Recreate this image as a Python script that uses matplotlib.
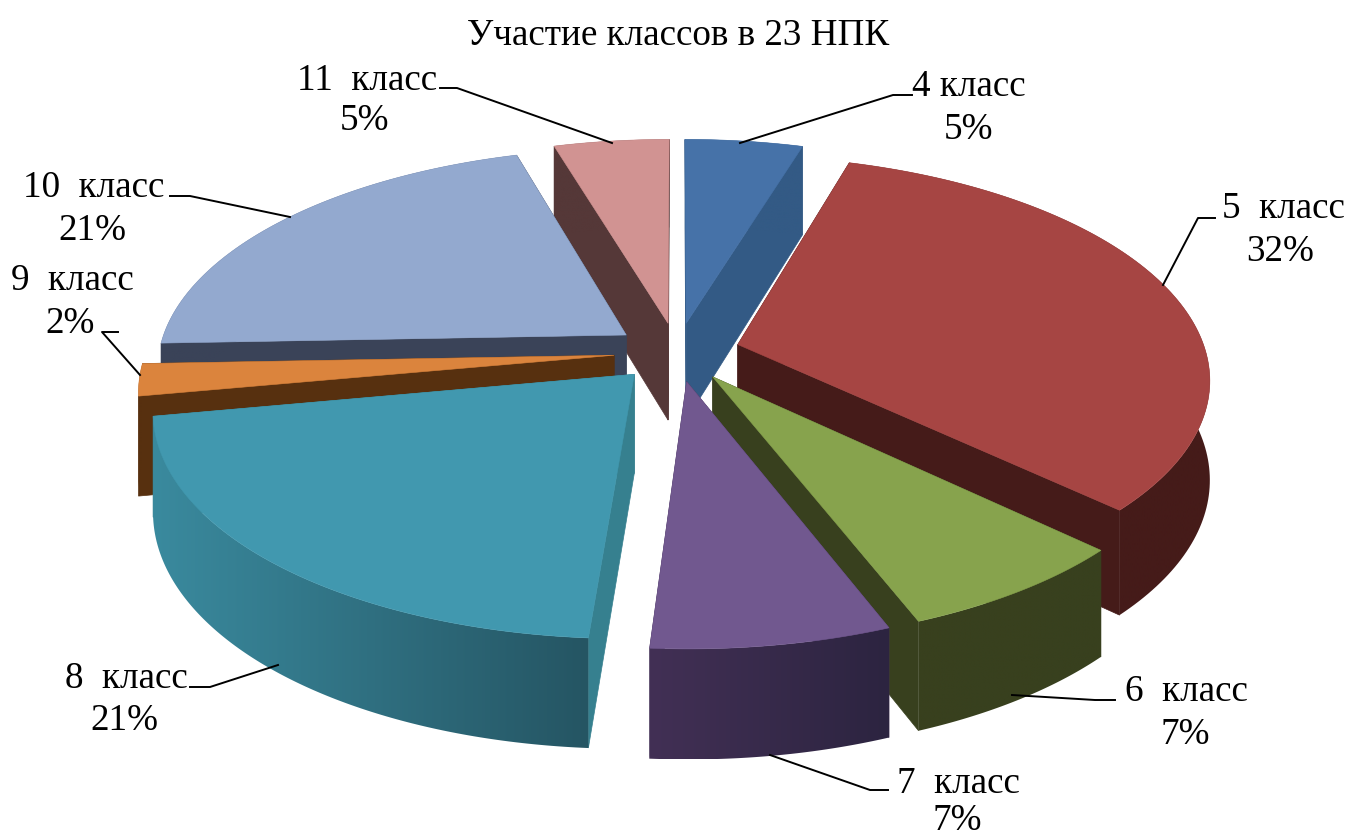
# Участие классов - 3D exploded pie drawn by hand on a pixel-sized axes
import numpy as np
import matplotlib
matplotlib.use('Agg')
import matplotlib.pyplot as plt
from matplotlib.colors import to_rgb
from matplotlib.patches import Polygon

title = 'Участие классов в 23 НПК'
categories = ['4 класс', '5  класс', '6  класс', '7  класс', '8  класс', '9  класс', '10  класс', '11  класс']
shares = [4.7, 32.4, 7.0, 7.0, 21.0, 2.3, 21.0, 4.6]

top_colors = ['#4672A8', '#A64543', '#87A34D', '#71588F', '#4198AF', '#DB843D', '#93A9CF', '#D19392']
cut_colors = ['#335A85', '#451B19', '#38401E', '#423055', '#36808F', '#57300F', '#3A4358', '#553838']
rim_left = ['#335A85', '#451B19', '#38401E', '#423055', '#3A8A9E', '#57300F', '#3A4358', '#553838']
rim_right = ['#335A85', '#451B19', '#38401E', '#2C2440', '#255563', '#57300F', '#3A4358', '#553838']

# Text centres and leader lines in figure pixels
label_xy = [(969, 87), (1283, 209), (1186, 692), (958, 784), (126, 679), (72, 281), (94, 188), (367, 81)]
pct_xy = [(968, 130), (1280, 252), (1185, 735), (957, 821), (124, 721), (70, 324), (92, 231), (365, 121)]
leaders = [
    [(912, 95), (893, 95), (740, 143)],
    [(1215, 218), (1198, 218), (1163, 285)],
    [(1115, 700), (1095, 700), (1012, 695)],
    [(888, 790), (870, 790), (770, 755)],
    [(190, 687), (210, 687), (278, 665)],
    [(118, 332), (102, 332), (140, 375)],
    [(170, 196), (190, 196), (290, 217)],
    [(440, 88), (457, 88), (612, 143)],
]

# Projection of the disc onto the page
CX, CY = 677, 352
RX, RY = 468, 218.6
PERSP = 0.146
EXPLODE = 0.135
DEPTH = 98


def project(x, y, drop=0.0):
    x, y = np.asarray(x, float), np.asarray(y, float)
    w = 1 + PERSP * y
    h = drop / (1 + 0.1 * y)
    return CX + RX * x / w, CY - RY * y / w + h


fig = plt.figure(figsize=(13.5, 8.36), dpi=100)
ax = fig.add_axes([0, 0, 1, 1])

edges = np.cumsum([0] + shares) / sum(shares) * 2 * np.pi
slices = []
for i in range(len(shares)):
    mid = (edges[i] + edges[i + 1]) / 2
    theta = np.linspace(edges[i], edges[i + 1], 120)
    ox, oy = EXPLODE * np.sin(mid), EXPLODE * np.cos(mid)
    slices.append((oy, i, theta, ox, oy))

# Painter's order: back slices first
z = 1
for _, i, theta, ox, oy in sorted(slices, key=lambda s: -s[0]):
    x = ox + np.sin(theta)
    y = oy + np.cos(theta)

    # Radial cut faces
    for k in (0, -1):
        ex = [ox, x[k], x[k], ox]
        ey = [oy, y[k], y[k], oy]
        px, py = project(ex[:2], ey[:2])
        qx, qy = project(ex[2:], ey[2:], DEPTH)
        ax.add_patch(Polygon(np.c_[np.r_[px, qx], np.r_[py, qy]], fc=cut_colors[i], ec=cut_colors[i], lw=0.5, zorder=z))
        z += 1

    # Outer rim, shaded from left to right with a clipped gradient
    tx, ty = project(x, y)
    bx, by = project(x, y, DEPTH)
    outline = np.c_[np.r_[tx, bx[::-1]], np.r_[ty, by[::-1]]]
    c0, c1 = np.array(to_rgb(rim_left[i])), np.array(to_rgb(rim_right[i]))
    ramp = c0 + (c1 - c0) * np.linspace(0, 1, 256)[:, None]
    im = ax.imshow(ramp[None, :, :], extent=(outline[:, 0].min(), outline[:, 0].max(), outline[:, 1].max(), outline[:, 1].min()),
                   aspect='auto', interpolation='bilinear', zorder=z)
    clip = Polygon(outline, transform=ax.transData)
    im.set_clip_path(clip)
    z += 1

    # Top face
    ax0, ay0 = project(ox, oy)
    ax.add_patch(Polygon(np.c_[np.r_[ax0, tx], np.r_[ay0, ty]], fc=top_colors[i], ec=top_colors[i], lw=0.4, zorder=z))
    z += 1

ax.set_xlim(0, 1350)
ax.set_ylim(836, 0)
ax.axis('off')

font = {'family': 'Liberation Serif', 'size': 26.7, 'color': 'black', 'ha': 'center', 'va': 'center'}
ax.text(678, 36, title, zorder=z, **font)
for i, name in enumerate(categories):
    ax.text(*label_xy[i], name, zorder=z, **font)
    ax.text(*pct_xy[i], f'{shares[i]:.0f}%', zorder=z, **font)
    lx, ly = zip(*leaders[i])
    ax.plot(lx, ly, color='black', lw=1.4, zorder=z)

fig.savefig('out.png', dpi=100)
